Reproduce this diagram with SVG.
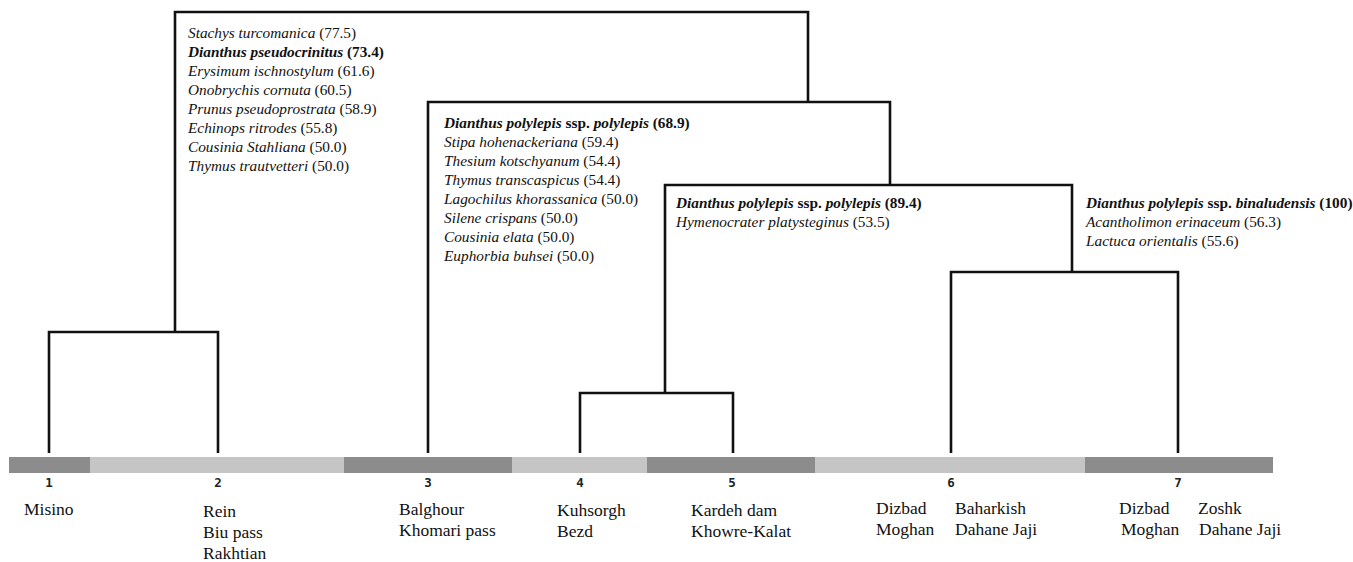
<svg xmlns="http://www.w3.org/2000/svg" width="1353" height="562" viewBox="0 0 1353 562">
<style>
.sp{font-family:"Liberation Serif","Times New Roman",serif;font-size:15.3px;fill:#111}
.i{font-style:italic}
.b{font-weight:bold}
.loc{font-family:"Liberation Serif","Times New Roman",serif;font-size:17.5px;fill:#111}
.num{font-family:"DejaVu Sans Mono",monospace;font-size:12.5px;font-weight:bold;fill:#222;text-anchor:middle}
.dk{fill:#8c8c8c}
.lt{fill:#c5c5c5}
.ln{fill:none;stroke:#111;stroke-width:2.6;stroke-linejoin:miter}
</style>
<rect width="1353" height="562" fill="#fff"/>
<g id="bar">
<rect class="dk" x="9" y="457" width="81" height="16"/>
<rect class="lt" x="90" y="457" width="254" height="16"/>
<rect class="dk" x="344" y="457" width="168" height="16"/>
<rect class="lt" x="512" y="457" width="135" height="16"/>
<rect class="dk" x="647" y="457" width="168" height="16"/>
<rect class="lt" x="815" y="457" width="270" height="16"/>
<rect class="dk" x="1085" y="457" width="188" height="16"/>
</g>
<g id="connectors">
<polyline class="ln" points="49,453 49,332 218,332 218,453"/>
<polyline class="ln" points="175,332 175,12 808,12 808,102"/>
<polyline class="ln" points="428,453 428,102 890,102 890,185"/>
<polyline class="ln" points="665,393 665,185 1072,185 1072,272"/>
<polyline class="ln" points="580,453 580,393 733,393 733,453"/>
<polyline class="ln" points="951,453 951,272 1178,272 1178,453"/>
</g>
<g id="cluster-a">
<text class="sp" x="188" y="38"><tspan class="i">Stachys turcomanica</tspan> (77.5)</text>
<text class="sp b" x="188" y="57"><tspan class="i">Dianthus pseudocrinitus</tspan> (73.4)</text>
<text class="sp" x="188" y="76"><tspan class="i">Erysimum ischnostylum</tspan> (61.6)</text>
<text class="sp" x="188" y="95"><tspan class="i">Onobrychis cornuta</tspan> (60.5)</text>
<text class="sp" x="188" y="114"><tspan class="i">Prunus pseudoprostrata</tspan> (58.9)</text>
<text class="sp" x="188" y="133"><tspan class="i">Echinops ritrodes</tspan> (55.8)</text>
<text class="sp" x="188" y="152"><tspan class="i">Cousinia Stahliana</tspan> (50.0)</text>
<text class="sp" x="188" y="171"><tspan class="i">Thymus trautvetteri</tspan> (50.0)</text>
</g>
<g id="cluster-b">
<text class="sp b" x="444" y="128"><tspan class="i">Dianthus polylepis</tspan> ssp. <tspan class="i">polylepis</tspan> (68.9)</text>
<text class="sp" x="444" y="147"><tspan class="i">Stipa hohenackeriana</tspan> (59.4)</text>
<text class="sp" x="444" y="166"><tspan class="i">Thesium kotschyanum</tspan> (54.4)</text>
<text class="sp" x="444" y="185"><tspan class="i">Thymus transcaspicus</tspan> (54.4)</text>
<text class="sp" x="444" y="204"><tspan class="i">Lagochilus khorassanica</tspan> (50.0)</text>
<text class="sp" x="444" y="223"><tspan class="i">Silene crispans</tspan> (50.0)</text>
<text class="sp" x="444" y="242"><tspan class="i">Cousinia elata</tspan> (50.0)</text>
<text class="sp" x="444" y="261"><tspan class="i">Euphorbia buhsei</tspan> (50.0)</text>
</g>
<g id="cluster-c">
<text class="sp b" x="676" y="208"><tspan class="i">Dianthus polylepis</tspan> ssp. <tspan class="i">polylepis</tspan> (89.4)</text>
<text class="sp" x="676" y="227"><tspan class="i">Hymenocrater platysteginus</tspan> (53.5)</text>
</g>
<g id="cluster-d">
<text class="sp b" x="1086" y="208"><tspan class="i">Dianthus polylepis</tspan> ssp. <tspan class="i">binaludensis</tspan> (100)</text>
<text class="sp" x="1086" y="227"><tspan class="i">Acantholimon erinaceum</tspan> (56.3)</text>
<text class="sp" x="1086" y="246"><tspan class="i">Lactuca orientalis</tspan> (55.6)</text>
</g>
<g id="site-1">
<text class="num" x="49" y="487">1</text>
<text class="loc" x="24" y="515">Misino</text>
</g>
<g id="site-2">
<text class="num" x="218" y="487">2</text>
<text class="loc" x="203" y="517">Rein</text>
<text class="loc" x="203" y="538">Biu pass</text>
<text class="loc" x="203" y="559">Rakhtian</text>
</g>
<g id="site-3">
<text class="num" x="428" y="487">3</text>
<text class="loc" x="399" y="515">Balghour</text>
<text class="loc" x="399" y="536">Khomari pass</text>
</g>
<g id="site-4">
<text class="num" x="580" y="487">4</text>
<text class="loc" x="557" y="516">Kuhsorgh</text>
<text class="loc" x="557" y="537">Bezd</text>
</g>
<g id="site-5">
<text class="num" x="732" y="487">5</text>
<text class="loc" x="691" y="516">Kardeh dam</text>
<text class="loc" x="691" y="537">Khowre-Kalat</text>
</g>
<g id="site-6">
<text class="num" x="951" y="487">6</text>
<text class="loc" x="876" y="514">Dizbad</text>
<text class="loc" x="876" y="535">Moghan</text>
<text class="loc" x="955" y="514">Baharkish</text>
<text class="loc" x="955" y="535">Dahane Jaji</text>
</g>
<g id="site-7">
<text class="num" x="1178" y="487">7</text>
<text class="loc" x="1119" y="514">Dizbad</text>
<text class="loc" x="1121" y="535">Moghan</text>
<text class="loc" x="1198" y="514">Zoshk</text>
<text class="loc" x="1199" y="535">Dahane Jaji</text>
</g>
</svg>
